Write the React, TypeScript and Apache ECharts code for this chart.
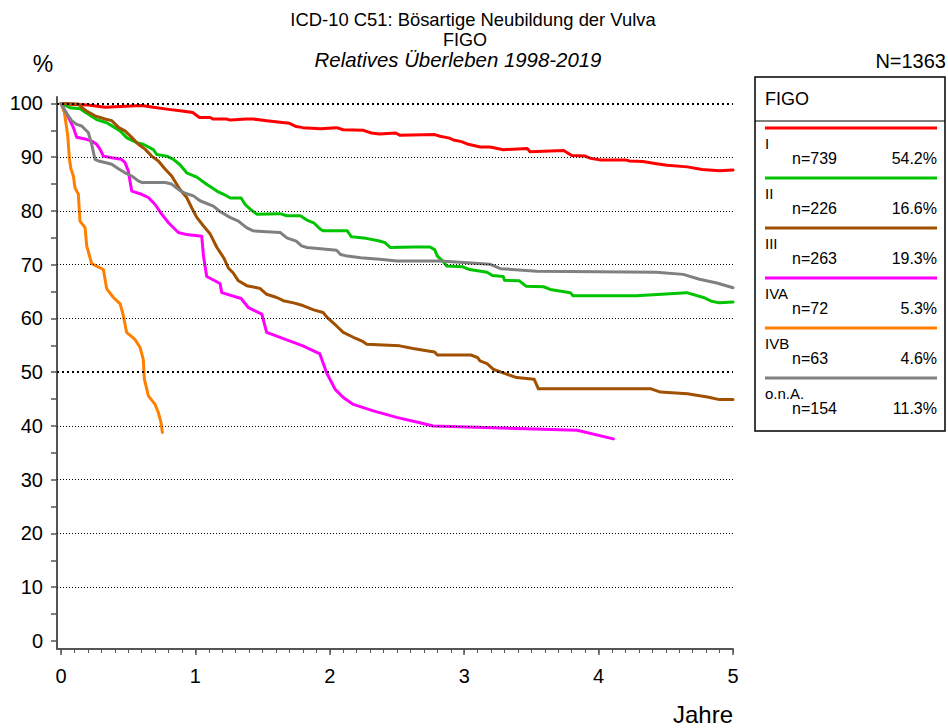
import React, { useEffect, useRef } from "react";
import * as echarts from "echarts";

const stageNames = ["I", "II", "III", "IVA", "IVB", "o.n.A."];
const stageCounts = ["n=739", "n=226", "n=263", "n=72", "n=63", "n=154"];
const stagePercents = ["54.2%", "16.6%", "19.3%", "5.3%", "4.6%", "11.3%"];
const stageColors = ["#ff0000", "#00c400", "#a05000", "#ff00ff", "#ff8000", "#808080"];

const xTickLabels = [0, 1, 2, 3, 4, 5];
const xMinorTicks = [0, 0.1, 0.2, 0.3, 0.4, 0.5, 0.6, 0.7, 0.8, 0.9, 1, 1.1, 1.2, 1.3, 1.4, 1.5, 1.6, 1.7, 1.8, 1.9, 2, 2.1, 2.2, 2.3, 2.4, 2.5, 2.6, 2.7, 2.8, 2.9, 3, 3.1, 3.2, 3.3, 3.4, 3.5, 3.6, 3.7, 3.8, 3.9, 4, 4.1, 4.2, 4.3, 4.4, 4.5, 4.6, 4.7, 4.8, 4.9, 5];
const yTickLabels = [0, 10, 20, 30, 40, 50, 60, 70, 80, 90, 100];
const yTicks = [0, 5, 10, 15, 20, 25, 30, 35, 40, 45, 50, 55, 60, 65, 70, 75, 80, 85, 90, 95, 100];
const gridValues = [10, 20, 30, 40, 50, 60, 70, 80, 90, 100];
const boldGridValues = [50, 100];

const survI = [[0, 100], [0.1, 99.8], [0.2, 99.7], [0.33, 99.3], [0.4, 99.4], [0.6, 99.6], [0.7, 99.25], [0.8, 98.9], [0.9, 98.6], [0.98, 98.3], [1.03, 97.4], [1.11, 97.4], [1.13, 97.1], [1.23, 97.1], [1.26, 96.9], [1.38, 97.1], [1.43, 97.1], [1.53, 96.8], [1.63, 96.5], [1.7, 96.3], [1.75, 95.7], [1.8, 95.5], [1.93, 95.3], [2.05, 95.5], [2.1, 95.1], [2.25, 95.0], [2.31, 94.5], [2.37, 94.3], [2.49, 94.5], [2.52, 94.1], [2.78, 94.2], [2.82, 93.9], [2.89, 93.55], [2.92, 93.2], [2.98, 92.9], [3.03, 92.4], [3.12, 91.9], [3.19, 91.9], [3.23, 91.7], [3.29, 91.4], [3.47, 91.6], [3.49, 91.0], [3.74, 91.25], [3.8, 90.3], [3.9, 90.2], [3.94, 89.8], [4.01, 89.5], [4.2, 89.5], [4.23, 89.3], [4.33, 89.2], [4.43, 88.8], [4.51, 88.5], [4.66, 88.2], [4.77, 87.7], [4.9, 87.5], [5.0, 87.6]];
const survII = [[0, 100], [0.067, 99.2], [0.141, 99.0], [0.166, 98.6], [0.265, 97.0], [0.34, 96.4], [0.44, 94.9], [0.49, 93.6], [0.563, 92.7], [0.612, 92.4], [0.687, 91.4], [0.712, 90.5], [0.786, 90.2], [0.836, 89.6], [0.885, 88.6], [0.935, 87.1], [1.01, 86.3], [1.08, 85.0], [1.16, 83.7], [1.21, 83.1], [1.26, 82.4], [1.34, 82.4], [1.37, 81.2], [1.41, 80.3], [1.456, 79.4], [1.63, 79.5], [1.68, 79.1], [1.78, 79.1], [1.83, 78.3], [1.88, 77.8], [1.93, 76.6], [1.95, 76.3], [2.13, 76.3], [2.16, 75.2], [2.27, 74.9], [2.37, 74.4], [2.41, 74.1], [2.45, 73.2], [2.62, 73.3], [2.745, 73.3], [2.78, 72.8], [2.8, 71.6], [2.84, 70.7], [2.87, 69.75], [2.99, 69.6], [3.04, 69.1], [3.17, 68.6], [3.21, 68.0], [3.29, 67.8], [3.3, 67.1], [3.41, 67.0], [3.46, 66.0], [3.59, 65.9], [3.64, 65.4], [3.79, 64.8], [3.81, 64.2], [4.11, 64.2], [4.28, 64.2], [4.655, 64.8], [4.78, 63.9], [4.84, 63.2], [4.9, 62.9], [5.0, 63.05]];
const survIII = [[0, 100], [0.129, 99.9], [0.154, 99.25], [0.19, 98.6], [0.253, 97.7], [0.327, 97.1], [0.377, 96.8], [0.43, 95.5], [0.476, 94.9], [0.526, 93.7], [0.575, 92.4], [0.625, 91.5], [0.675, 90.2], [0.724, 89.3], [0.774, 87.8], [0.823, 86.5], [0.885, 84.0], [0.935, 82.5], [0.972, 80.6], [1.01, 78.8], [1.06, 77.2], [1.11, 75.7], [1.16, 73.2], [1.21, 71.3], [1.245, 69.4], [1.28, 68.5], [1.32, 67.0], [1.382, 66.1], [1.48, 65.6], [1.53, 64.5], [1.605, 63.9], [1.654, 63.3], [1.73, 62.9], [1.8, 62.4], [1.88, 61.6], [1.95, 61.1], [1.98, 60.2], [2.05, 58.6], [2.1, 57.4], [2.175, 56.5], [2.24, 55.8], [2.275, 55.2], [2.52, 54.9], [2.62, 54.4], [2.72, 54.0], [2.78, 53.75], [2.8, 53.2], [3.05, 53.2], [3.1, 52.7], [3.117, 52.1], [3.17, 51.6], [3.22, 50.5], [3.32, 49.6], [3.39, 49.0], [3.52, 48.7], [3.552, 46.9], [4.39, 46.9], [4.46, 46.3], [4.66, 46.0], [4.81, 45.4], [4.9, 44.9], [5.0, 44.9]];
const survIVA = [[0, 100], [0.03, 98.6], [0.067, 96.8], [0.092, 95.5], [0.116, 93.7], [0.178, 93.4], [0.228, 93.0], [0.265, 92.4], [0.29, 91.5], [0.315, 90.2], [0.377, 89.9], [0.45, 89.6], [0.476, 89.0], [0.5, 87.5], [0.526, 83.7], [0.6, 83.1], [0.65, 82.5], [0.7, 81.2], [0.749, 79.4], [0.8, 77.8], [0.873, 76.0], [0.935, 75.6], [1.047, 75.3], [1.06, 71.6], [1.084, 67.8], [1.183, 66.5], [1.196, 64.8], [1.34, 63.7], [1.395, 62.0], [1.494, 60.8], [1.53, 57.4], [1.8, 54.9], [1.926, 53.4], [1.976, 49.9], [2.04, 46.8], [2.1, 45.3], [2.175, 44.0], [2.324, 42.8], [2.497, 41.6], [2.67, 40.6], [2.77, 40.0], [3.84, 39.2], [4.11, 37.6]];
const survIVB = [[0, 100], [0.025, 98.3], [0.05, 94.0], [0.0625, 89.6], [0.074, 87.8], [0.092, 86.5], [0.104, 84.3], [0.129, 83.1], [0.141, 78.1], [0.179, 76.9], [0.191, 73.5], [0.228, 70.2], [0.315, 69.1], [0.34, 65.5], [0.39, 63.9], [0.44, 62.7], [0.464, 60.5], [0.488, 57.4], [0.55, 56.1], [0.588, 54.6], [0.612, 52.4], [0.62, 48.7], [0.65, 45.6], [0.7, 44.0], [0.724, 42.5], [0.744, 40.6], [0.754, 38.8]];
const survONA = [[0, 100], [0.03, 98.6], [0.055, 97.7], [0.079, 96.8], [0.116, 96.1], [0.154, 95.8], [0.178, 95.2], [0.203, 94.6], [0.228, 92.4], [0.253, 89.6], [0.278, 89.3], [0.327, 89.0], [0.377, 88.7], [0.43, 87.8], [0.476, 87.1], [0.526, 86.5], [0.575, 85.6], [0.6, 85.3], [0.774, 85.3], [0.823, 85.0], [0.873, 84.0], [0.923, 83.3], [0.985, 82.8], [1.034, 81.9], [1.133, 80.9], [1.183, 79.9], [1.257, 78.8], [1.32, 78.1], [1.38, 76.9], [1.43, 76.3], [1.63, 76.0], [1.68, 75.0], [1.75, 74.4], [1.79, 73.5], [1.83, 73.2], [2.05, 72.7], [2.08, 71.9], [2.13, 71.6], [2.23, 71.3], [2.37, 71.0], [2.5, 70.7], [2.82, 70.7], [2.995, 70.4], [3.19, 70.1], [3.27, 69.25], [3.54, 68.8], [4.43, 68.6], [4.63, 68.2], [4.75, 67.3], [4.88, 66.6], [5.0, 65.7]];

const survivalSeries = [survI, survII, survIII, survIVA, survIVB, survONA];

const FONT = "'Liberation Sans', Arial, sans-serif";

export default function App() {
  const ref = useRef<HTMLDivElement>(null);

  useEffect(() => {
    document.body.style.margin = "0";
    if (!ref.current) return;
    const chart = echarts.init(ref.current, undefined, { renderer: "svg" });

    const lineSeries = survivalSeries.map((data, i) => ({
      name: stageNames[i],
      type: "line",
      xAxisIndex: 0,
      yAxisIndex: 0,
      data,
      showSymbol: false,
      symbol: "none",
      z: 3,
      silent: true,
      lineStyle: { color: stageColors[i], width: 3, cap: "round", join: "round" },
    }));

    const gridSeries = {
      type: "line",
      xAxisIndex: 0,
      yAxisIndex: 0,
      data: [],
      z: 1,
      silent: true,
      markLine: {
        silent: true,
        symbol: ["none", "none"],
        animation: false,
        label: { show: false },
        data: gridValues.map((v) => {
          const bold = boldGridValues.includes(v);
          return {
            yAxis: v,
            lineStyle: {
              color: "#000",
              width: bold ? 2 : 1,
              type: bold ? [2, 3] : [1, 2],
            },
          };
        }),
      },
    };

    const legendLeft = 755;
    const legendTop = 77;
    const legendW = 190;
    const legendH = 354;
    const legendElements: any[] = [
      {
        type: "rect",
        shape: { x: legendLeft, y: legendTop, width: legendW, height: legendH },
        style: { fill: "#fff", stroke: "#000", lineWidth: 1.5 },
        z: 10,
      },
      {
        type: "line",
        shape: { x1: legendLeft, y1: 121, x2: legendLeft + legendW, y2: 121 },
        style: { stroke: "#000", lineWidth: 1 },
        z: 11,
      },
      {
        type: "text",
        x: 765,
        y: 99,
        style: { text: "FIGO", font: `18px ${FONT}`, fill: "#000", verticalAlign: "middle" },
        z: 11,
      },
    ];
    stageNames.forEach((name, i) => {
      const ly = 128 + 50 * i;
      legendElements.push(
        {
          type: "line",
          shape: { x1: 765, y1: ly, x2: 937, y2: ly },
          style: { stroke: stageColors[i], lineWidth: 3 },
          z: 11,
        },
        {
          type: "text",
          x: 765,
          y: ly + 15,
          style: { text: name, font: `15px ${FONT}`, fill: "#000", verticalAlign: "middle" },
          z: 11,
        },
        {
          type: "text",
          x: 792,
          y: ly + 30,
          style: { text: stageCounts[i], font: `16px ${FONT}`, fill: "#000", verticalAlign: "middle" },
          z: 11,
        },
        {
          type: "text",
          x: 937,
          y: ly + 30,
          style: { text: stagePercents[i], font: `16px ${FONT}`, fill: "#000", verticalAlign: "middle", align: "right" },
          z: 11,
        }
      );
    });

    const textElements: any[] = [
      {
        type: "text",
        x: 473,
        y: 19,
        style: { text: "ICD-10 C51: Bösartige Neubildung der Vulva", font: `18.4px ${FONT}`, fill: "#000", align: "center", verticalAlign: "middle" },
      },
      {
        type: "text",
        x: 465,
        y: 40,
        style: { text: "FIGO", font: `18px ${FONT}`, fill: "#000", align: "center", verticalAlign: "middle" },
      },
      {
        type: "text",
        x: 458,
        y: 60,
        style: { text: "Relatives Überleben 1998-2019", font: `italic 20.4px ${FONT}`, fill: "#000", align: "center", verticalAlign: "middle" },
      },
      {
        type: "text",
        x: 43,
        y: 64,
        style: { text: "%", font: `23px ${FONT}`, fill: "#000", align: "center", verticalAlign: "middle" },
      },
      {
        type: "text",
        x: 946,
        y: 61,
        style: { text: "N=1363", font: `20px ${FONT}`, fill: "#000", align: "right", verticalAlign: "middle" },
      },
      {
        type: "text",
        x: 733,
        y: 714,
        style: { text: "Jahre", font: `24px ${FONT}`, fill: "#000", align: "right", verticalAlign: "middle" },
      },
    ];

    const axisColor = "#555";

    chart.setOption({
      animation: false,
      backgroundColor: "#fff",
      grid: { left: 57, right: 215, top: 97, bottom: 79, containLabel: false },
      xAxis: [
        {
          type: "value",
          position: "bottom",
          min: -0.03,
          max: 5,
          axisLine: { show: true, onZero: false, lineStyle: { color: axisColor, width: 2 } },
          axisTick: { show: true, inside: false, length: 6, customValues: xTickLabels, lineStyle: { color: axisColor, width: 1.5 } },
          axisLabel: { show: true, customValues: xTickLabels, margin: 17, fontSize: 20, color: "#000", fontFamily: FONT },
          splitLine: { show: false },
        },
        {
          type: "value",
          position: "bottom",
          offset: 0,
          min: -0.03,
          max: 5,
          axisLine: { show: false, onZero: false },
          axisTick: { show: true, inside: false, length: 4, customValues: xMinorTicks, lineStyle: { color: axisColor, width: 1 } },
          axisLabel: { show: false },
          splitLine: { show: false },
        },
      ],
      yAxis: [
        {
          type: "value",
          min: -1.5,
          max: 101.2,
          axisLine: { show: true, onZero: false, lineStyle: { color: axisColor, width: 2 } },
          axisTick: { show: true, inside: false, length: 6, customValues: yTicks, lineStyle: { color: axisColor, width: 1.5 } },
          axisLabel: { show: true, customValues: yTickLabels, margin: 14, fontSize: 20, color: "#000", fontFamily: FONT },
          splitLine: { show: false },
        },
      ],
      graphic: [...textElements, ...legendElements],
      series: [gridSeries, ...lineSeries],
    });

    return () => chart.dispose();
  }, []);

  return <div ref={ref} style={{ width: 948, height: 728 }} />;
}
